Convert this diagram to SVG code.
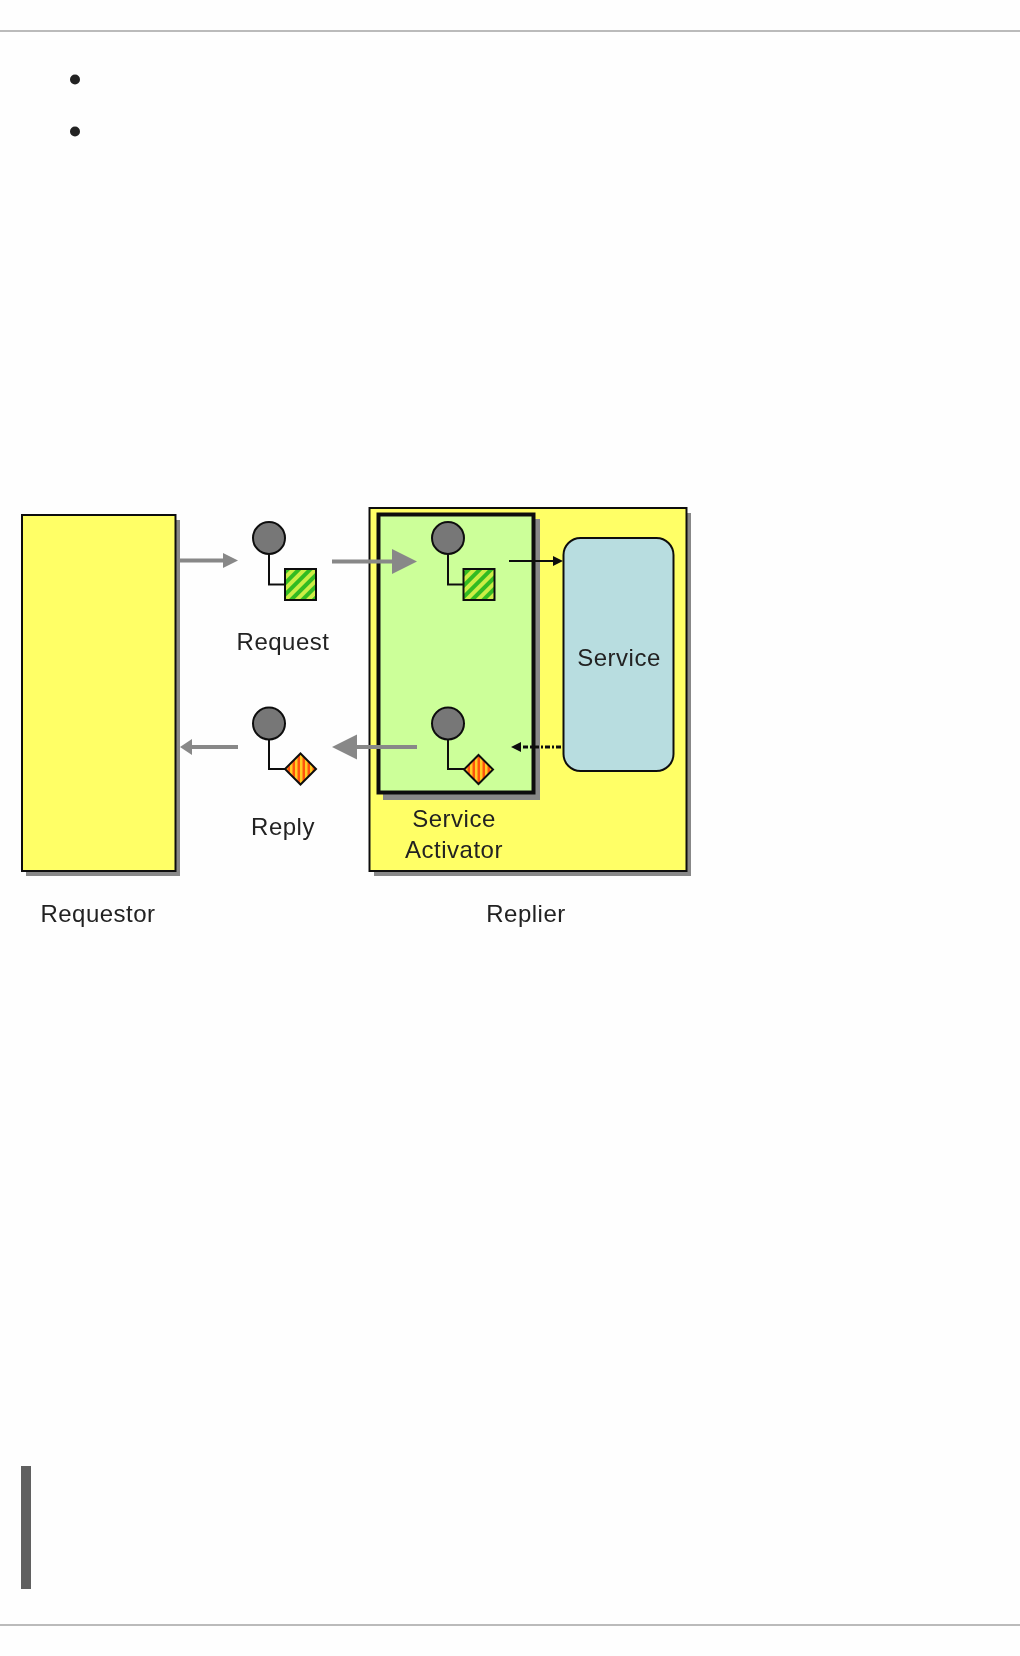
<svg xmlns="http://www.w3.org/2000/svg" width="1020" height="1656" viewBox="0 0 1020 1656">
<style>
.lbl{font-family:"Liberation Sans",Arial,sans-serif;font-size:24px;letter-spacing:.5px;fill:#222;text-anchor:middle}
.box{stroke:#111;stroke-width:2}
.shadow{fill:#888}
.chan{fill:#777;stroke:#111;stroke-width:2}
.lead{fill:none;stroke:#111;stroke-width:2}
.msg{stroke:#111;stroke-width:2}
.grey{stroke:#888;stroke-width:4;fill:none}
</style>
<defs>
<pattern id="hatch" width="8" height="8" patternUnits="userSpaceOnUse" patternTransform="rotate(45)"><rect width="8" height="8" fill="#33bb22"/><rect width="4" height="8" fill="#ccee44"/></pattern>
<pattern id="stripe" width="5" height="5" patternUnits="userSpaceOnUse"><rect width="5" height="5" fill="#ff5511"/><rect width="2.500" height="5" fill="#ffcc22"/></pattern>
<filter id="soft" x="-2%" y="-2%" width="104%" height="104%"><feGaussianBlur stdDeviation="0.45"/></filter>
</defs>
<rect width="1020" height="1656" fill="#fefefe"/>
<g id="page">
<rect x="0" y="30" width="1020" height="2" fill="#bbb"/>
<rect x="0" y="1624" width="1020" height="2" fill="#bbb"/>
<circle cx="75" cy="79.500" r="5" fill="#222"/>
<circle cx="75" cy="131.500" r="5" fill="#222"/>
<rect x="21" y="1466" width="10" height="123" fill="#606060"/>
</g>
<g id="diagram" filter="url(#soft)">
<g id="requestor">
<rect class="shadow" x="26" y="520" width="154" height="356"/>
<rect class="box" x="22" y="515" width="153.500" height="356" fill="#ffff66"/>
<text class="lbl" x="98" y="922">Requestor</text>
</g>
<g id="replier">
<rect class="shadow" x="374" y="513" width="317" height="363"/>
<rect class="box" x="369.500" y="508" width="317" height="363" fill="#ffff66"/>
<text class="lbl" x="526" y="922">Replier</text>
</g>
<g id="service-activator">
<rect class="shadow" x="383" y="519" width="157" height="281"/>
<rect x="378.500" y="514.500" width="155" height="278" fill="#ccff99" stroke="#111" stroke-width="4"/>
<text class="lbl" x="454" y="827">Service</text>
<text class="lbl" x="454" y="858">Activator</text>
</g>
<g id="service">
<rect x="563.500" y="538" width="110" height="233" rx="17" fill="#b8dde0" stroke="#111" stroke-width="2"/>
<text class="lbl" x="619" y="666">Service</text>
</g>
<g id="request-message">
<circle class="chan" cx="269" cy="538" r="16"/>
<path class="lead" d="M269 554V584.500H285"/>
<rect class="msg" x="285" y="569" width="31" height="31" fill="url(#hatch)"/>
<text class="lbl" x="283" y="650">Request</text>
</g>
<g id="reply-message">
<circle class="chan" cx="269" cy="723.500" r="16"/>
<path class="lead" d="M269 739.500V769H285"/>
<path class="msg" d="M300.500 753.500L316 769L300.500 784.500L285 769Z" fill="url(#stripe)"/>
<text class="lbl" x="283" y="835">Reply</text>
</g>
<g id="activator-request">
<circle class="chan" cx="448" cy="538" r="16"/>
<path class="lead" d="M448 554V584.500H463"/>
<rect class="msg" x="463.500" y="569" width="31" height="31" fill="url(#hatch)"/>
</g>
<g id="activator-reply">
<circle class="chan" cx="448" cy="723.500" r="16"/>
<path class="lead" d="M448 739.500V769H464"/>
<path class="msg" d="M478.500 755L493 769.500L478.500 784L464 769.500Z" fill="url(#stripe)"/>
</g>
<g id="connectors">
<path class="grey" d="M180 560.500H225"/>
<path d="M223 553L238 560.500L223 568Z" fill="#888"/>
<path class="grey" d="M332 561.500H395"/>
<path d="M392 549L417 561.500L392 574Z" fill="#888"/>
<path class="grey" d="M190 747H238"/>
<path d="M180 747L192 739V755Z" fill="#888"/>
<path class="grey" d="M355 747H417"/>
<path d="M332 747L357 734.500V759.500Z" fill="#888"/>
<path d="M509 561H555" stroke="#111" stroke-width="2" fill="none"/>
<path d="M553 556L563 561L553 566Z" fill="#111"/>
<path d="M519 747H563" stroke="#111" stroke-width="3" stroke-dasharray="2 2 5 2" fill="none"/>
<path d="M511 747L521 742V752Z" fill="#111"/>
</g>
</g>
</svg>
